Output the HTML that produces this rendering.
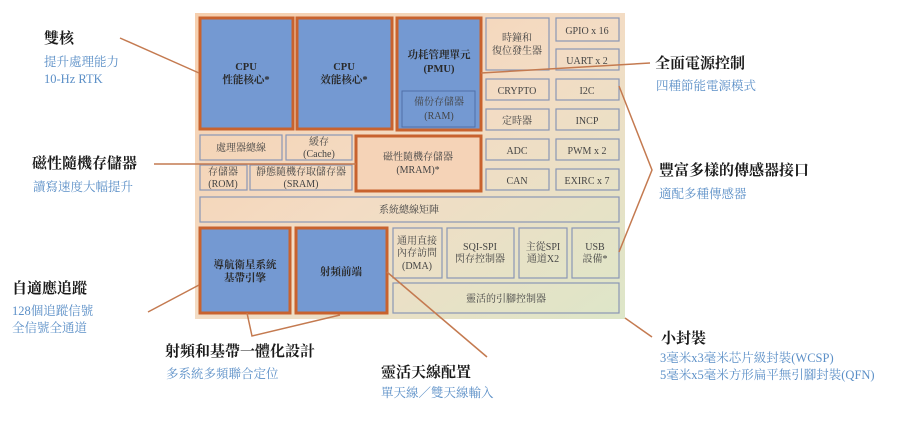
<!DOCTYPE html>
<html><head><meta charset="utf-8"><style>
html,body{margin:0;padding:0;background:#fff;}
svg{display:block;font-family:"Liberation Serif","Noto Serif CJK SC","Noto Sans CJK TC",serif;}
.h{font-size:15px;font-weight:bold;fill:#1a1a1a;}
.s{font-size:12.5px;fill:#5b8fc7;}
.t{font-size:10px;fill:#444;text-anchor:middle;}
.tb{font-size:10.5px;fill:#2a2a2a;text-anchor:middle;font-weight:bold;}
.pb{fill:none;stroke:#8a97b5;stroke-width:1.2;}
.blue{fill:#7499d2;stroke:#c8622e;stroke-width:3;}
.ln{stroke:#c47a50;stroke-width:1.5;fill:none;}
</style></head><body>
<svg width="900" height="430" viewBox="0 0 900 430">
<defs>
<linearGradient id="bg" x1="0" y1="0" x2="1" y2="1">
<stop offset="0" stop-color="#f6cfae"/>
<stop offset="0.5" stop-color="#f3dcc4"/>
<stop offset="1" stop-color="#dde6c8"/>
</linearGradient>
</defs>
<rect x="195" y="13" width="430" height="306" fill="url(#bg)"/>

<!-- CPUs -->
<rect class="blue" x="200" y="18" width="93" height="111"/>
<rect class="blue" x="297" y="18" width="95" height="111"/>
<text class="tb" x="246" y="70">CPU</text><text class="tb" x="246" y="83">性能核心*</text>
<text class="tb" x="344" y="70">CPU</text><text class="tb" x="344" y="83">效能核心*</text>
<!-- PMU -->
<rect class="blue" x="397" y="18" width="84" height="112"/>
<text class="tb" x="439" y="58">功耗管理單元</text><text class="tb" x="439" y="72">(PMU)</text>
<rect x="402" y="91" width="73" height="36" fill="#7499d2" stroke="#4f6fa8" stroke-width="1"/>
<text class="t" x="439" y="105">備份存儲器</text><text class="t" x="439" y="119">(RAM)</text>

<!-- right peripherals -->
<g fill="none">
<rect class="pb" x="486" y="18" width="63" height="52"/>
<rect class="pb" x="556" y="18" width="63" height="23"/>
<rect class="pb" x="556" y="49" width="63" height="21"/>
<rect class="pb" x="486" y="79" width="63" height="21"/>
<rect class="pb" x="556" y="79" width="63" height="21"/>
<rect class="pb" x="486" y="109" width="63" height="21"/>
<rect class="pb" x="556" y="109" width="63" height="21"/>
<rect class="pb" x="486" y="139" width="63" height="21"/>
<rect class="pb" x="556" y="139" width="63" height="21"/>
<rect class="pb" x="486" y="169" width="63" height="21"/>
<rect class="pb" x="556" y="169" width="63" height="21"/>
</g>
<text class="t" x="517" y="41">時鐘和</text><text class="t" x="517" y="54">復位發生器</text>
<text class="t" x="587" y="34">GPIO x 16</text>
<text class="t" x="587" y="64">UART x 2</text>
<text class="t" x="517" y="94">CRYPTO</text>
<text class="t" x="587" y="94">I2C</text>
<text class="t" x="517" y="124">定時器</text>
<text class="t" x="587" y="124">INCP</text>
<text class="t" x="517" y="154">ADC</text>
<text class="t" x="587" y="154">PWM x 2</text>
<text class="t" x="517" y="184">CAN</text>
<text class="t" x="587" y="184">EXIRC x 7</text>

<!-- memory -->
<rect class="pb" x="200" y="135" width="82" height="25"/>
<rect class="pb" x="286" y="135" width="66" height="25"/>
<rect class="pb" x="200" y="165" width="47" height="25"/>
<rect class="pb" x="250" y="165" width="102" height="25"/>
<text class="t" x="241" y="151">處理器總線</text>
<text class="t" x="319" y="145">緩存</text><text class="t" x="319" y="157">(Cache)</text>
<text class="t" x="223" y="175">存儲器</text><text class="t" x="223" y="187">(ROM)</text>
<text class="t" x="301" y="175">靜態隨機存取儲存器</text><text class="t" x="301" y="187">(SRAM)</text>
<rect x="356" y="136" width="125" height="55" fill="#f5d3b7" stroke="#c8622e" stroke-width="3"/>
<text class="t" x="418" y="160">磁性隨機存儲器</text><text class="t" x="418" y="173">(MRAM)*</text>

<rect class="pb" x="200" y="197" width="419" height="25"/>
<text class="t" x="409" y="213">系統總線矩陣</text>

<!-- bottom -->
<rect class="blue" x="200" y="228" width="90" height="85"/>
<rect class="blue" x="296" y="228" width="91" height="85"/>
<text class="tb" x="245" y="268">導航衛星系統</text><text class="tb" x="245" y="281">基帶引擎</text>
<text class="tb" x="341" y="275">射頻前端</text>
<rect class="pb" x="393" y="228" width="49" height="50"/>
<rect class="pb" x="447" y="228" width="67" height="50"/>
<rect class="pb" x="519" y="228" width="48" height="50"/>
<rect class="pb" x="572" y="228" width="47" height="50"/>
<text class="t" x="417" y="244">通用直接</text><text class="t" x="417" y="256">內存訪問</text><text class="t" x="417" y="269">(DMA)</text>
<text class="t" x="480" y="250">SQI-SPI</text><text class="t" x="480" y="262">閃存控制器</text>
<text class="t" x="543" y="250">主從SPI</text><text class="t" x="543" y="262">通道X2</text>
<text class="t" x="595" y="250">USB</text><text class="t" x="595" y="262">設備*</text>
<rect class="pb" x="393" y="283" width="226" height="30"/>
<text class="t" x="506" y="302">靈活的引腳控制器</text>

<!-- connectors -->
<line class="ln" x1="120" y1="38" x2="199" y2="73"/>
<line class="ln" x1="154" y1="164" x2="356" y2="164"/>
<line class="ln" x1="481" y1="73" x2="650" y2="63"/>
<polyline class="ln" points="619,86 652,170 619,252"/>
<line class="ln" x1="148" y1="312" x2="199" y2="285"/>
<polyline class="ln" points="247,313 252,336 340,315"/>
<line class="ln" x1="387" y1="272" x2="487" y2="357"/>
<line class="ln" x1="625" y1="318" x2="652" y2="337"/>

<!-- labels -->
<text class="h" x="44" y="43">雙核</text>
<text class="s" x="44" y="66">提升處理能力</text>
<text class="s" x="44" y="83">10-Hz RTK</text>
<text class="h" x="32" y="168">磁性隨機存儲器</text>
<text class="s" x="33" y="191">讀寫速度大幅提升</text>
<text class="h" x="655" y="68">全面電源控制</text>
<text class="s" x="656" y="90">四種節能電源模式</text>
<text class="h" x="659" y="175">豐富多樣的傳感器接口</text>
<text class="s" x="659" y="198">適配多種傳感器</text>
<text class="h" x="12" y="293">自適應追蹤</text>
<text class="s" x="12" y="315">128個追蹤信號</text>
<text class="s" x="12" y="332">全信號全通道</text>
<text class="h" x="165" y="356">射頻和基帶一體化設計</text>
<text class="s" x="166" y="378">多系統多頻聯合定位</text>
<text class="h" x="381" y="377">靈活天線配置</text>
<text class="s" x="381" y="397">單天線／雙天線輸入</text>
<text class="h" x="661" y="343">小封裝</text>
<text class="s" x="660" y="362">3毫米x3毫米芯片級封裝(WCSP)</text>
<text class="s" x="660" y="379">5毫米x5毫米方形扁平無引腳封裝(QFN)</text>
</svg>
</body></html>
